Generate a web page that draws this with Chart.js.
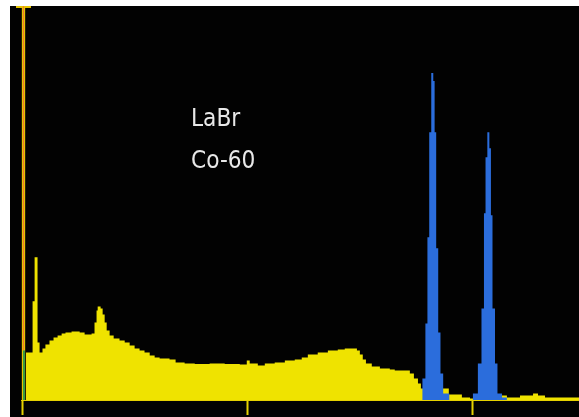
<!DOCTYPE html>
<html lang="en">
<head>
    <meta charset="UTF-8">
    <script src="https://cdn.jsdelivr.net/npm/chart.js"></script>
    <title>LaBr Co-60</title>
    <style>
        body { margin: 0; background: #fff; }
        .tela {
            position: absolute; left: 10px; top: 6px;
            width: 569px; height: 411px; background: #020202;
        }
        .rotulo {
            position: absolute; color: #e8e8e8;
            font-family: "DejaVu Sans", sans-serif; font-size: 25px;
            line-height: 25px; transform: scaleX(0.87); transform-origin: 0 0;
        }
    </style>
</head>
<body>
    <div class="tela">
        <canvas id="espectro" width="569" height="411"></canvas>
        <div class="rotulo" style="left:181px; top:99px;">LaBr</div>
        <div class="rotulo" style="left:181px; top:141px;">Co-60</div>
    </div>

<script>
    // canal (borda esquerda do bin) e contagens - espectro total
    const canais = [0, 11, 47, 56, 69, 78, 91, 104, 122, 140, 158, 176, 193, 220, 256, 278, 309, 322, 331, 336,
        349, 358, 367, 376, 389, 407, 433, 456, 478, 500, 522, 544, 567, 589, 611, 655, 682, 722, 767, 833,
        900, 967, 998, 1011, 1047, 1078, 1122, 1167, 1211, 1242, 1269, 1313, 1358, 1402, 1433, 1464, 1487, 1500, 1513, 1527,
        1553, 1589, 1633, 1655, 1700, 1722, 1740, 1758, 1771, 1895, 1953, 1989, 2007, 2153, 2211, 2269, 2291, 2322, 2473];
    const contagens = [495, 475, 985, 1425, 575, 475, 515, 555, 595, 625, 645, 665, 675, 685, 675, 655, 665, 775, 895, 935,
        915, 855, 775, 695, 645, 615, 595, 575, 545, 515, 495, 475, 445, 425, 415, 405, 375, 365, 360, 365,
        360, 355, 395, 365, 345, 365, 375, 395, 405, 425, 455, 475, 495, 505, 515, 515, 495, 455, 405, 365,
        335, 315, 305, 295, 295, 265, 215, 165, 115, 55, 25, 15, 45, 25, 45, 65, 45, 25, 25];

    // picos do Co-60 (1173 e 1332 keV) - ROI em azul
    const canaisPico = [1777, 1791, 1800, 1808, 1817, 1826, 1832, 1839, 1848, 1858, 1870, 1897,
        2002, 2024, 2040, 2051, 2058, 2066, 2075, 2082, 2089, 2100, 2111, 2131, 2153];
    const contagensPico = [215, 765, 1625, 2675, 3265, 3185, 2675, 1515, 675, 265, 65, 0,
        65, 365, 915, 1865, 2425, 2675, 2515, 1845, 915, 365, 65, 25, 0];

    const marcasX = [0, 1000, 2000];
    const canalCursor = 5;

    const amarelo = '#efe300';

    let dadosTotal = canais.map((c, i) => ({ x: c, y: contagens[i] }));
    let dadosPico = canaisPico.map((c, i) => ({ x: c, y: contagensPico[i] }));

    // cursor vertical na esquerda
    const cursor = {
        id: 'cursor',
        afterDatasetsDraw(chart) {
            const ctx = chart.ctx;
            const x = Math.round(chart.scales.x.getPixelForValue(canalCursor));
            const yBase = chart.scales.y.getPixelForValue(0);
            const yDado = chart.scales.y.getPixelForValue(contagens[0]);
            ctx.save();
            ctx.fillStyle = '#2a2200';
            ctx.fillRect(x - 2, 0, 5, yBase);
            ctx.fillStyle = '#e6c400';
            ctx.fillRect(x - 1, 0, 3, yBase);
            ctx.fillRect(x - 7, 0, 6, 2);
            ctx.fillRect(x + 2, 0, 6, 2);
            ctx.fillStyle = '#f07a30';
            ctx.fillRect(x, 0, 1, yDado);
            ctx.fillStyle = '#3a9a40';
            ctx.fillRect(x, yDado, 2, yBase - yDado);
            ctx.restore();
        }
    };

    const config = {
        type: 'line',
        data: {
            datasets: [{
                label: 'Co-60 pico',
                data: dadosPico,
                stepped: true,
                fill: 'origin',
                backgroundColor: '#2b6ddc',
                borderWidth: 0,
                pointRadius: 0
            }, {
                label: 'LaBr',
                data: dadosTotal,
                stepped: true,
                fill: 'origin',
                backgroundColor: amarelo,
                borderWidth: 0,
                pointRadius: 0
            }]
        },
        options: {
            responsive: false,
            animation: false,
            devicePixelRatio: 1,
            layout: { padding: { left: 12, right: 0, top: 0, bottom: 2 } },
            plugins: { legend: { display: false }, tooltip: { enabled: false } },
            scales: {
                x: {
                    type: 'linear',
                    min: 0,
                    max: 2473,
                    afterBuildTicks: (axis) => { axis.ticks = marcasX.map(v => ({ value: v })); },
                    ticks: { display: false },
                    grid: {
                        drawOnChartArea: false,
                        drawTicks: true,
                        tickLength: 15,
                        tickWidth: 2,
                        tickColor: '#e6d200'
                    },
                    border: { display: true, color: '#e6d200', width: 2 }
                },
                y: {
                    display: false,
                    min: 0,
                    max: 3935
                }
            }
        },
        plugins: [cursor]
    };

    let grafico = new Chart(document.getElementById('espectro'), config);
</script>
</body>
</html>
